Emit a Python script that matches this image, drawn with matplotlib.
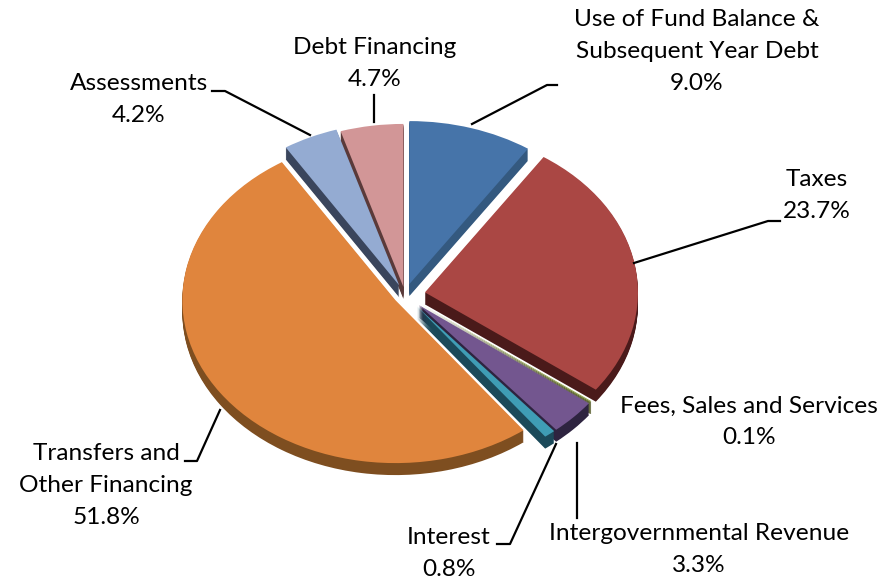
import math

import matplotlib
matplotlib.use("Agg")
import matplotlib.pyplot as plt

labels = ["Use of Fund Balance &\nSubsequent Year Debt", "Taxes", "Fees, Sales and Services",
          "Intergovernmental Revenue", "Interest", "Transfers and\nOther Financing",
          "Assessments", "Debt Financing"]
values = [9.0, 23.7, 0.1, 3.3, 0.8, 51.8, 4.2, 4.7]
explode = [0.07, 0.095, 0.09, 0.09, 0.09, 0.055, 0.065, 0.05]
top_colors = ["#4674A9", "#AA4744", "#8FA14B", "#73568F", "#3F9DB5", "#E0853D", "#94ABD2", "#D29697"]
side_colors = ["#34597F", "#4A1A1A", "#5A6030", "#2E2440", "#1B4A5A", "#7E4E20", "#3A455C", "#5A3A3A"]

# label text: x centre, y of first line in pixels
label_pos = [(697, 20), (817, 180), (749, 406), (699, 534), (449, 538), (106, 454), (139, 83), (375, 47)]
leaders = [
    [(472, 124), (547, 85), (557, 85)],
    [(634, 263), (768, 221), (780, 221)],
    None,
    [(577, 443), (577, 518)],
    [(556, 444), (510, 544), (497, 544)],
    [(220, 410), (197, 461), (185, 461)],
    [(310, 135), (225, 91), (212, 91)],
    [(374, 122), (374, 95)],
]

W, H = 893, 583
cx, cy = 405, 295
rx, ry = 213, 163
depth = 12


# the original is a tilted 3D pie, its front looks stretched
def perspective_sizes(vals):
    total = sum(vals)
    run = 0
    prev = 0
    sizes = []
    for v in vals:
        run += v
        a = 360 * run / total
        a = a + 8 * math.sin(math.radians(a / 2)) ** 2
        sizes.append(a - prev)
        prev = a
    return sizes


sizes = perspective_sizes(values)

fig = plt.figure(figsize=(W / 100, H / 100), dpi=100)
ax = fig.add_axes([0, 0, 1, 1])

# side walls first, stacked downwards, then the top face
for k in range(depth, 0, -1):
    ax.pie(sizes, explode=explode, colors=side_colors, startangle=90, counterclock=False,
           center=(0, -k / ry), radius=1)
ax.pie(sizes, explode=explode, colors=top_colors, startangle=90, counterclock=False,
       center=(0, 0), radius=1)

ax.set_aspect("auto")
ax.set_xlim(-cx / rx, (W - cx) / rx)
ax.set_ylim((cy - H) / ry, cy / ry)
ax.axis("off")

# overlay in pixel coordinates for the callouts
ov = fig.add_axes([0, 0, 1, 1])
ov.set_xlim(0, W)
ov.set_ylim(H, 0)
ov.axis("off")
ov.patch.set_alpha(0)

line_h = 32
for lab, val, pos, lead in zip(labels, values, label_pos, leaders):
    txt = lab + "\n" + ("%.1f%%" % val)
    lines = txt.split("\n")
    for i, s in enumerate(lines):
        ov.text(pos[0], pos[1] + i * line_h, s, ha="center", va="center",
                fontsize=17.6, family="Lato", color="black")
    if lead:
        ov.plot([p[0] for p in lead], [p[1] for p in lead], color="black", lw=1.6)

fig.savefig("out.png", dpi=100)
